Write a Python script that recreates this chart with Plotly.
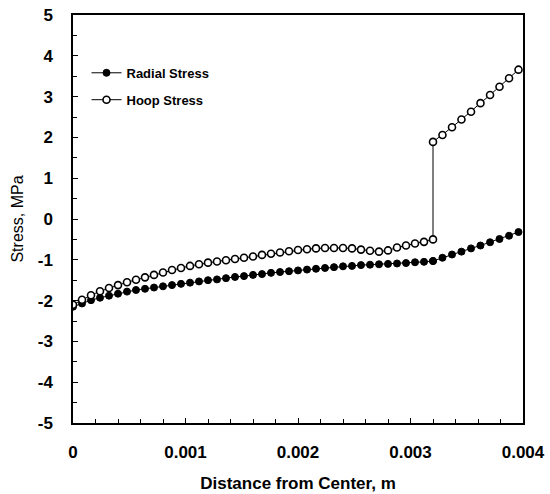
import plotly.graph_objects as go

# Radial distance (m): inner region nodes then outer region nodes (duplicate node at interface)
distance = [
    0.0, 0.00008, 0.00016, 0.00024, 0.00032, 0.00040, 0.00048, 0.00056, 0.00064, 0.00072,
    0.00080, 0.00088, 0.00096, 0.00104, 0.00112, 0.00120, 0.00128, 0.00136, 0.00144, 0.00152,
    0.00160, 0.00168, 0.00176, 0.00184, 0.00192, 0.00200, 0.00208, 0.00216, 0.00224, 0.00232,
    0.00240, 0.00248, 0.00256, 0.00264, 0.00272, 0.00280, 0.00288, 0.00296, 0.00304, 0.00312,
    0.00320,
    0.00320, 0.003284, 0.003369, 0.003453, 0.003538, 0.003622, 0.003707, 0.003791, 0.003876, 0.00396,
]

radial_stress = [
    -2.15, -2.07, -1.99, -1.93, -1.88, -1.83, -1.78, -1.74, -1.71, -1.68,
    -1.65, -1.62, -1.59, -1.56, -1.53, -1.50, -1.48, -1.45, -1.42, -1.40,
    -1.37, -1.35, -1.32, -1.30, -1.28, -1.26, -1.24, -1.22, -1.20, -1.18,
    -1.16, -1.15, -1.13, -1.12, -1.11, -1.10, -1.09, -1.08, -1.06, -1.05,
    -1.03,
    -1.03, -0.95, -0.87, -0.80, -0.72, -0.65, -0.57, -0.49, -0.41, -0.32,
]

hoop_stress = [
    -2.10, -1.98, -1.87, -1.77, -1.69, -1.62, -1.55, -1.49, -1.43, -1.37,
    -1.31, -1.25, -1.20, -1.15, -1.11, -1.07, -1.04, -1.01, -0.98, -0.95,
    -0.92, -0.88, -0.85, -0.82, -0.79, -0.76, -0.74, -0.72, -0.71, -0.71,
    -0.71, -0.72, -0.75, -0.78, -0.80, -0.77, -0.70, -0.65, -0.60, -0.56,
    -0.50,
    1.89, 2.06, 2.25, 2.44, 2.63, 2.84, 3.04, 3.24, 3.45, 3.66,
]

x_tickvals = [0, 0.001, 0.002, 0.003, 0.004]
x_ticktext = ["0", "0.001", "0.002", "0.003", "0.004"]
y_tickvals = [5, 4, 3, 2, 1, 0, -1, -2, -3, -4, -5]
y_ticktext = ["5", "4", "3", "2", "1", "0", "-1", "-2", "-3", "-4", "-5"]

FONT = "Arial, Liberation Sans, Helvetica, sans-serif"

fig = go.Figure()
fig.add_trace(go.Scatter(
    x=distance, y=radial_stress, mode="lines+markers", name="Radial Stress",
    legendgroup="r",
    line=dict(color="black", width=1),
    marker=dict(symbol="circle", size=7, color="black", line=dict(color="black", width=1)),
))
fig.add_trace(go.Scatter(
    x=distance, y=hoop_stress, mode="lines+markers", name="Hoop Stress",
    legendgroup="h",
    line=dict(color="black", width=1),
    marker=dict(symbol="circle", size=7, color="white", line=dict(color="black", width=1.6)),
))

fig.update_layout(
    width=550, height=494,
    margin=dict(l=73, r=27, t=15, b=71),
    paper_bgcolor="white", plot_bgcolor="white",
    font=dict(family=FONT, color="black"),
    showlegend=True,
    legend=dict(
        x=0.03, y=0.895, xanchor="left", yanchor="top",
        bgcolor="rgba(0,0,0,0)", borderwidth=0,
        font=dict(family=FONT, size=13, color="black", weight="bold"),
        itemwidth=30, traceorder="grouped", tracegroupgap=7,
    ),
)

fig.update_xaxes(
    range=[0, 0.004], automargin=False,
    tickvals=x_tickvals, ticktext=x_ticktext,
    tickfont=dict(family=FONT, size=17, color="black", weight="bold"),
    ticks="inside", ticklen=5, tickwidth=1, tickcolor="black",
    minor=dict(dtick=0.0002, ticks="inside", ticklen=4, tickcolor="black", tickwidth=1),
    showline=True, linecolor="black", linewidth=1.5, mirror=True,
    showgrid=False, zeroline=False,
    ticklabelstandoff=13,
    title=dict(text="Distance from Center, m", standoff=16,
               font=dict(family=FONT, size=17, color="black", weight="bold")),
)
fig.update_yaxes(
    range=[-5, 5], automargin=False,
    tickvals=y_tickvals, ticktext=y_ticktext,
    tickfont=dict(family=FONT, size=17, color="black", weight="bold"),
    ticks="inside", ticklen=5, tickwidth=1, tickcolor="black",
    minor=dict(dtick=0.5, ticks="inside", ticklen=4, tickcolor="black", tickwidth=1),
    showline=True, linecolor="black", linewidth=1.5, mirror=True,
    showgrid=False, zeroline=False,
    ticklabelstandoff=15,
    title=dict(text="Stress, MPa", standoff=10,
               font=dict(family=FONT, size=16, color="black")),
)

fig.write_html("out.html")
